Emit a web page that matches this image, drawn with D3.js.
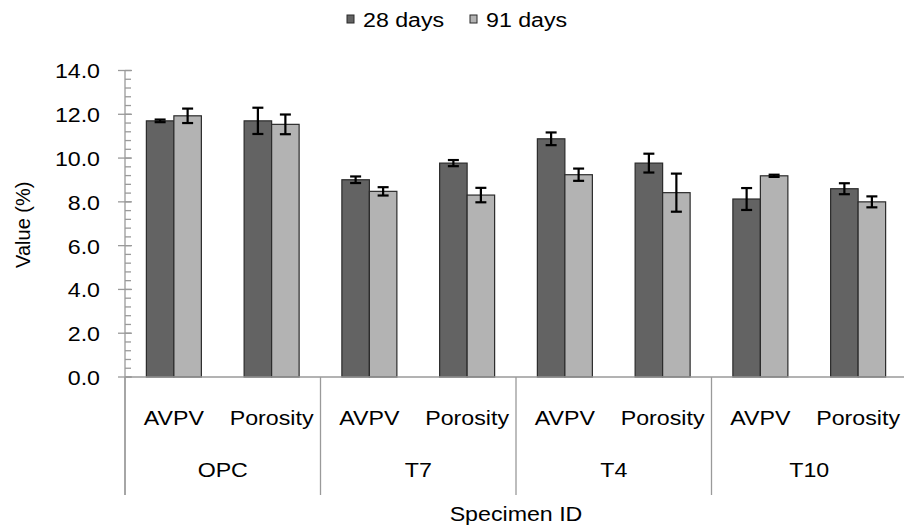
<!DOCTYPE html>
<html>
<head>
<meta charset="utf-8">
<script src="https://cdn.jsdelivr.net/npm/d3@7"></script>
<style>
  body { margin: 0; background: #fff; }
  text { font-family: "Liberation Sans", Arial, sans-serif; fill: #000; }
</style>
</head>
<body>
<script>
// chart data
const groups = ['OPC', 'T7', 'T4', 'T10'];
const measures = ['AVPV', 'Porosity'];
const seriesNames = ['28 days', '91 days'];
const seriesColors = ['#636363', '#b3b3b3'];

// values in group order: OPC AVPV, OPC Porosity, T7 AVPV, ...
const days28 = [11.70, 11.70, 9.01, 9.77, 10.88, 9.77, 8.13, 8.60];
const days91 = [11.93, 11.54, 8.48, 8.31, 9.24, 8.42, 9.19, 8.00];
const err28 = [0.06, 0.60, 0.15, 0.14, 0.29, 0.43, 0.50, 0.25];
const err91 = [0.33, 0.45, 0.19, 0.33, 0.28, 0.87, 0.05, 0.25];

const yTicks = [0, 2, 4, 6, 8, 10, 12, 14];

const width = 904;
const height = 527;
const stretch = 1.16; // the original picture is a bit wide

const svg = d3.select('body').append('svg')
  .attr('width', width)
  .attr('height', height);

const x0 = d3.scaleBand().domain(groups).range([125, 907]);
const x1 = d3.scaleBand().domain(measures).range([0, x0.bandwidth()]);
const barW = 27.5;
const x2 = d3.scaleBand().domain(seriesNames)
  .range([x1.bandwidth() / 2 - barW, x1.bandwidth() / 2 + barW]);
const y = d3.scaleLinear().domain([0, 14]).range([377, 70.5]);

const axisColor = '#9a9a9a';

// text helper with horizontal stretch
function label(parent, x, yy, str, anchor) {
  return parent.append('text')
    .attr('transform', `translate(${x},${yy}) scale(${stretch},1)`)
    .attr('text-anchor', anchor || 'middle')
    .attr('dominant-baseline', 'central')
    .style('font-size', '20px')
    .text(str);
}

// rows of bar data
const rows = [];
groups.forEach((g, gi) => {
  measures.forEach((m, mi) => {
    const i = gi * measures.length + mi;
    rows.push({ g, m, s: seriesNames[0], v: days28[i], e: err28[i], c: seriesColors[0] });
    rows.push({ g, m, s: seriesNames[1], v: days91[i], e: err91[i], c: seriesColors[1] });
  });
});
const bx = d => x0(d.g) + x1(d.m) + x2(d.s);

// bars
svg.append('g').selectAll('rect')
  .data(rows)
  .enter()
  .append('rect')
  .attr('x', bx)
  .attr('y', d => y(d.v))
  .attr('width', x2.bandwidth())
  .attr('height', d => y(0) - y(d.v))
  .attr('fill', d => d.c)
  .attr('stroke', '#2b2b2b')
  .attr('stroke-width', 1.2);

// error bars
const eb = svg.append('g').attr('stroke', '#000').attr('stroke-width', 2.2);
rows.forEach((d) => {
  const cx = bx(d) + x2.bandwidth() / 2;
  eb.append('line')
    .attr('x1', cx).attr('x2', cx)
    .attr('y1', y(d.v + d.e)).attr('y2', y(d.v - d.e));
  [d.v + d.e, d.v - d.e].forEach((v) => {
    eb.append('line')
      .attr('x1', cx - 5.5).attr('x2', cx + 5.5)
      .attr('y1', y(v)).attr('y2', y(v));
  });
});

// y axis
const yAxis = svg.append('g').attr('stroke', axisColor).attr('stroke-width', 1.3);
yAxis.append('line')
  .attr('x1', 125).attr('x2', 125)
  .attr('y1', y(14)).attr('y2', 495);
d3.range(0, 14.01, 0.4).forEach((v) => {
  yAxis.append('line')
    .attr('x1', 125).attr('x2', 131)
    .attr('y1', y(v)).attr('y2', y(v));
});
yTicks.forEach((v) => {
  yAxis.append('line')
    .attr('x1', 118).attr('x2', 132)
    .attr('y1', y(v)).attr('y2', y(v));
});
yTicks.forEach((v) => {
  label(svg, 100, y(v) + 1, v.toFixed(1), 'end');
});

// x axis with two level categories
const xAxis = svg.append('g').attr('stroke', axisColor).attr('stroke-width', 1.3);
xAxis.append('line')
  .attr('x1', 125).attr('x2', 907)
  .attr('y1', y(0)).attr('y2', y(0));
groups.forEach((g) => {
  xAxis.append('line')
    .attr('x1', x0(g)).attr('x2', x0(g))
    .attr('y1', y(0)).attr('y2', 495);
  measures.forEach((m) => {
    label(svg, x0(g) + x1(m) + x1.bandwidth() / 2, 418, m);
  });
  label(svg, x0(g) + x0.bandwidth() / 2, 470, g);
});

label(svg, (x0.range()[0] + x0.range()[1]) / 2, 514, 'Specimen ID');

svg.append('text')
  .attr('transform', `translate(23,${y(7) + 1}) rotate(-90)`)
  .attr('text-anchor', 'middle')
  .attr('dominant-baseline', 'central')
  .style('font-size', '20px')
  .text('Value (%)');

// legend
const legendX = [347, 470];
seriesNames.forEach((s, i) => {
  svg.append('rect')
    .attr('x', legendX[i]).attr('y', 15)
    .attr('width', 7).attr('height', 8)
    .attr('fill', seriesColors[i])
    .attr('stroke', '#2b2b2b')
    .attr('stroke-width', 1);
  label(svg, legendX[i] + 16, 20, s, 'start');
});
</script>
</body>
</html>
